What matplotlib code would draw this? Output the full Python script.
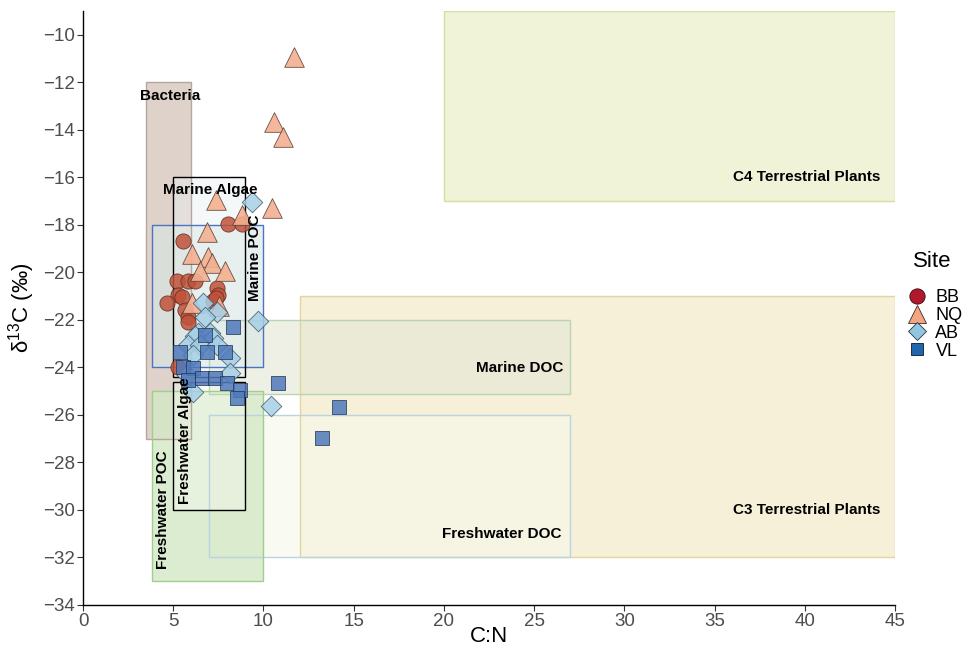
import matplotlib.pyplot as plt
from matplotlib.patches import Rectangle
from matplotlib.lines import Line2D

plt.rcParams['font.family'] = ['Liberation Sans', 'DejaVu Sans']

# source boxes: name, x0, x1, y0, y1
box_names = ['C3 Terrestrial Plants', 'C4 Terrestrial Plants', 'Marine DOC', 'Freshwater DOC',
             'Bacteria', 'Freshwater POC', 'Marine POC', 'Marine Algae', 'Freshwater Algae']
box_x0 = [12, 20, 7, 7, 3.5, 3.8, 3.8, 5, 5]
box_x1 = [45, 45, 27, 27, 6, 10, 10, 9, 9]
box_y0 = [-32, -17, -25.1, -32, -27, -33, -24, -24.4, -30]
box_y1 = [-21, -9, -22, -26, -12, -25, -18, -16, -24.6]

# samples (C:N, d13C)
bb_cn = [5.55, 8.04, 8.82, 5.21, 5.82, 6.21, 7.43, 7.49, 5.27, 5.49, 4.66, 7.21, 7.38, 5.66, 5.82, 5.82, 5.27]
bb_d13c = [-18.66, -17.94, -17.98, -20.34, -20.34, -20.34, -20.67, -20.97, -20.97, -21.05, -21.3,
           -21.22, -21.09, -21.6, -21.89, -22.1, -23.99]

nq_cn = [11.7, 10.59, 11.09, 7.38, 10.48, 8.82, 6.88, 6.05, 6.93, 7.15, 6.49, 7.88, 6.05, 7.54]
nq_d13c = [-10.92, -13.66, -14.29, -16.97, -17.27, -17.6, -18.28, -19.24, -19.37, -19.62, -19.92,
           -19.92, -21.3, -21.43]

ab_cn = [9.37, 9.71, 6.66, 7.43, 6.77, 6.38, 7.04, 6.21, 7.21, 5.82, 6.49, 7.43, 6.1, 8.15, 5.77,
         8.15, 6.1, 10.43]
ab_d13c = [-17.02, -22.06, -21.3, -21.68, -21.89, -22.56, -22.56, -22.69, -22.77, -23.07, -23.07,
           -23.07, -23.49, -23.61, -24.33, -24.24, -25.04, -25.63]

vl_cn = [8.32, 6.77, 5.38, 6.88, 7.88, 5.55, 6.1, 6.6, 7.32, 7.99, 8.71, 8.54, 10.82, 14.2, 13.26, 5.82]
vl_d13c = [-22.31, -22.65, -23.36, -23.36, -23.36, -23.99, -24.03, -24.45, -24.45, -24.66, -24.96,
           -25.29, -24.66, -25.67, -26.97, -24.54]

sites = ['BB', 'NQ', 'AB', 'VL']

fig = plt.figure(figsize=(9.79, 6.49), dpi=100)
ax = fig.add_axes([0.0848, 0.0678, 0.8295, 0.915])

fills = {'C3 Terrestrial Plants': ('#f3ebc8', '#e2d69c'),
         'C4 Terrestrial Plants': ('#eef1d0', '#d6de9c'),
         'Marine DOC': ('#e3e7d6', '#bcd3b3'),
         'Freshwater DOC': ('#f6f7ea', '#b9d3e0'),
         'Bacteria': ('#ddd0c9', '#b7a69b'),
         'Freshwater POC': ('#d4e8c6', '#9fcf8a'),
         'Marine POC': ('#d7e7e4', '#4d73c2'),
         'Marine Algae': ('#e8f1f1', 'black'),
         'Freshwater Algae': ('#f4f8ef', 'black')}
alphas = {'C3 Terrestrial Plants': 0.7, 'C4 Terrestrial Plants': 0.8, 'Marine DOC': 0.6,
          'Freshwater DOC': 0.6, 'Bacteria': 0.95, 'Freshwater POC': 0.8, 'Marine POC': 0.6,
          'Marine Algae': 0.45, 'Freshwater Algae': 0.45}

for n, x0, x1, y0, y1 in zip(box_names, box_x0, box_x1, box_y0, box_y1):
    fc, ec = fills[n]
    ax.add_patch(Rectangle((x0, y0), x1 - x0, y1 - y0, facecolor=fc, edgecolor='none',
                           alpha=alphas[n], zorder=1))
    ax.add_patch(Rectangle((x0, y0), x1 - x0, y1 - y0, facecolor='none', edgecolor=ec,
                           lw=1.0, zorder=2))

lab = dict(fontsize=11, fontweight='bold', color='black', zorder=5)
ax.text(4.83, -12.56, 'Bacteria', ha='center', va='center', **lab)
ax.text(7.04, -16.51, 'Marine Algae', ha='center', va='center', **lab)
ax.text(9.55, -19.4, 'Marine POC', ha='center', va='center', rotation=90, **lab)
ax.text(26.6, -24.03, 'Marine DOC', ha='right', va='center', **lab)
ax.text(26.5, -31.0, 'Freshwater DOC', ha='right', va='center', **lab)
ax.text(44.2, -16.0, 'C4 Terrestrial Plants', ha='right', va='center', **lab)
ax.text(44.2, -30.0, 'C3 Terrestrial Plants', ha='right', va='center', **lab)
ax.text(4.45, -30.0, 'Freshwater POC', ha='center', va='center', rotation=90, **lab)
ax.text(5.65, -27.1, 'Freshwater Algae', ha='center', va='center', rotation=90, **lab)

ax.scatter(bb_cn, bb_d13c, s=120, marker='o', c='#c0523a', edgecolors='#5a2a20', linewidths=0.6,
           alpha=0.85, zorder=3)
ax.scatter(nq_cn, nq_d13c, s=200, marker='^', c='#f4b090', edgecolors='#5a4036', linewidths=0.6,
           alpha=0.9, zorder=3)
ax.scatter(ab_cn, ab_d13c, s=110, marker='D', c='#a6cfe6', edgecolors='#3d5566', linewidths=0.6,
           alpha=0.85, zorder=3)
ax.scatter(vl_cn, vl_d13c, s=100, marker='s', c='#4f79bb', edgecolors='#1f3350', linewidths=0.6,
           alpha=0.85, zorder=3)

ax.set_xlim(0, 45)
ax.set_ylim(-34, -9)
ax.set_xticks(range(0, 46, 5))
ax.set_yticks(range(-34, -9, 2))
ax.tick_params(labelsize=13.5, labelcolor='#4d4d4d', length=4, width=0.8, color='#333333', pad=2)
for s in ['top', 'right']:
    ax.spines[s].set_visible(False)
for s in ['left', 'bottom']:
    ax.spines[s].set_linewidth(1.0)
ax.set_xlabel('C:N', fontsize=16, labelpad=-3)
ax.set_ylabel(r'δ$^{\mathregular{13}}$C (‰)', fontsize=16, labelpad=4)

fig.text(0.9326, 1 - 262 / 649, 'Site', fontsize=16, ha='left', va='center')
handles = [Line2D([], [], ls='none', marker='o', ms=11, mfc='#b2182b', mec='#3a0a10', mew=0.6),
           Line2D([], [], ls='none', marker='^', ms=13, mfc='#f4a582', mec='#3a2a20', mew=0.6),
           Line2D([], [], ls='none', marker='D', ms=9, mfc='#92c5de', mec='#203a4a', mew=0.6),
           Line2D([], [], ls='none', marker='s', ms=9, mfc='#2166ac', mec='#0a1a30', mew=0.6)]
fig.legend(handles, sites, loc='upper left', bbox_to_anchor=(0.926, 1 - 289 / 649),
           frameon=False, fontsize=13, handletextpad=0.4, labelspacing=0.05,
           borderaxespad=0, borderpad=0, handlelength=1.2)

fig.savefig('out.png', dpi=100)
